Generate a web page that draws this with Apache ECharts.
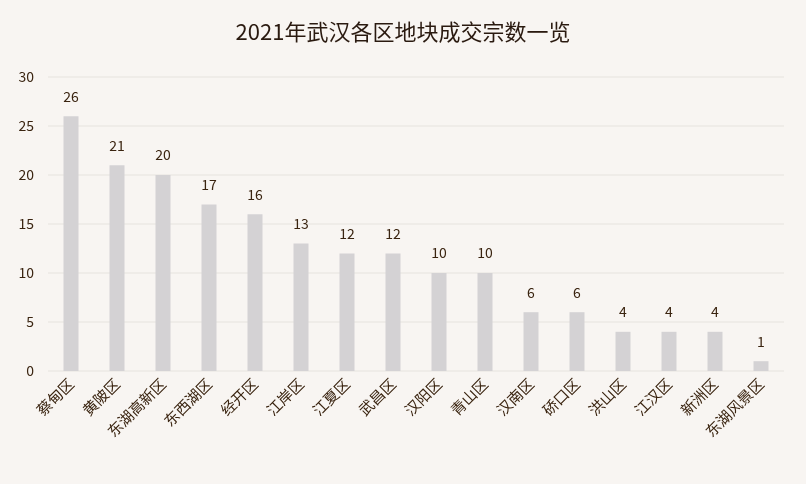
<!DOCTYPE html>
<html>
<head>
<meta charset="utf-8">
<script src="https://cdn.jsdelivr.net/npm/echarts@6/dist/echarts.min.js"></script>
<style>html,body{margin:0;padding:0;background:#f8f5f2;}#main{width:806px;height:484px;}</style>
</head>
<body>
<div id="main"></div>
<script>
var districts = ['蔡甸区', '黄陂区', '东湖高新区', '东西湖区', '经开区', '江岸区', '江夏区', '武昌区', '汉阳区', '青山区', '汉南区', '硚口区', '洪山区', '江汉区', '新洲区', '东湖风景区'];
var deals = [26, 21, 20, 17, 16, 13, 12, 12, 10, 10, 6, 6, 4, 4, 4, 1];

var chart = echarts.init(document.getElementById('main'));
var font = '"Noto Sans CJK SC", sans-serif';
var option = {
    backgroundColor: '#f8f5f2',
    title: {
        text: '2021年武汉各区地块成交宗数一览',
        left: 'center',
        top: 16,
        textStyle: { color: '#2a1a10', fontSize: 22, fontWeight: 'normal', fontFamily: font }
    },
    grid: { left: 48, right: 22, top: 77, bottom: 113 },
    xAxis: {
        type: 'category',
        data: districts,
        axisLine: { show: false },
        axisTick: { show: false },
        axisLabel: { color: '#3a2410', fontSize: 15, rotate: 45, interval: 0, fontFamily: font, margin: 10 }
    },
    yAxis: {
        type: 'value',
        min: 0, max: 30, interval: 5,
        axisLabel: { color: '#3a2410', fontSize: 14, fontFamily: font, margin: 14 },
        splitLine: { lineStyle: { color: '#ece8e4', width: 1.5 } }
    },
    series: [{
        type: 'bar',
        data: deals,
        barWidth: 15,
        itemStyle: { color: '#d4d2d4' },
        label: { show: true, position: 'top', distance: 13, color: '#3a2410', fontSize: 14, fontFamily: font }
    }]
};
chart.setOption(option);
</script>
</body>
</html>
